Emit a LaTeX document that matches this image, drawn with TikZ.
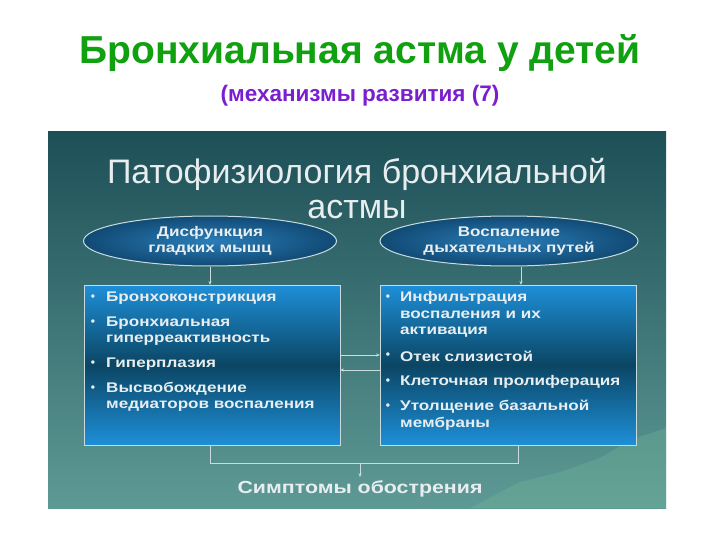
\documentclass[tikz,border=0pt]{standalone}
\usepackage{fontspec}
\setmainfont{Liberation Sans}
\newfontfamily\wide[FakeStretch=1.22]{Liberation Sans}
\usetikzlibrary{shapes.geometric,arrows.meta}
\definecolor{ttlgreen}{HTML}{10A010}
\definecolor{subpurple}{HTML}{7A1FD0}
\definecolor{bgtop}{HTML}{1D4F57}
\definecolor{bgbot}{HTML}{5E9A95}
\definecolor{boxblue}{HTML}{1E8FD8}
\definecolor{boxdark}{HTML}{0B4664}
\definecolor{elldark}{HTML}{114A74}
\definecolor{ellblue}{HTML}{2A7DB8}
\definecolor{txtlight}{HTML}{E8EEF0}
\definecolor{lineclr}{HTML}{C8DCE0}
\tikzset{
  boxst/.style={draw=lineclr, line width=1pt, top color=boxblue, bottom color=boxblue, middle color=boxdark},
  ellst/.style={ellipse, draw=lineclr, line width=1pt, inner color=ellblue, outer color=elldark, minimum width=253pt, minimum height=50pt, align=center, font=\wide\bfseries\fontsize{14}{16}\selectfont, text=txtlight, inner sep=0pt},
  itm/.style={anchor=west, font=\wide\bfseries\fontsize{14}{16}\selectfont, text=txtlight, inner sep=0pt},
  bul/.style={font=\bfseries\fontsize{12}{12}\selectfont, text=txtlight, inner sep=0pt},
  conn/.style={draw=lineclr, line width=0.8pt},
  arr/.style={conn, -{Stealth[length=4pt,width=3pt]}}
}
\begin{document}
\begin{tikzpicture}[x=1pt,y=-1pt]
\useasboundingbox (0,0) rectangle (720,540);
\fill[white] (0,0) rectangle (720,540);
\node[text=ttlgreen, font=\bfseries\fontsize{39}{42}\selectfont] (t1) at (360,53) {Бронхиальная астма у детей};
\node[text=subpurple, font=\bfseries\fontsize{22.5}{25}\selectfont] (t2) at (360,96) {(механизмы развития (7)};
\shade[top color=bgtop, bottom color=bgbot] (48,132) rectangle (666,508);
\fill[bgbot!80!white!90!green, opacity=0.35] (470,508) -- (520,482) -- (560,472) -- (600,458) -- (630,440) -- (666,428) -- (666,508) -- cycle;
\node[text=txtlight, font=\fontsize{34}{35}\selectfont, align=center] (pt) at (357,189) {Патофизиология бронхиальной\\астмы};
\node[ellst] (e1) at (210,241) {Дисфункция\\гладких мышц};
\node[ellst, minimum width=258pt] (e2) at (509,241) {Воспаление\\дыхательных путей};
\path[boxst] (84,285) rectangle (340,445);
\path[boxst] (380,285) rectangle (636,445);
\coordinate (b1t) at (210,285); \coordinate (b2t) at (521,285);
\coordinate (b1b) at (210,445); \coordinate (b2b) at (518,445);
\coordinate (b1r1) at (340,355); \coordinate (b2l1) at (380,355);
\coordinate (b1r2) at (340,370); \coordinate (b2l2) at (380,370);
\draw[arr] (e1.south) -- (b1t);
\draw[arr] (e2.south -| b2t) -- (b2t);
\draw[arr] (b1r1) -- (b2l1);
\draw[arr] (b2l2) -- (b1r2);
\coordinate (j) at (360,463);
\draw[conn] (b1b) -- (210,463) -- (518,463) -- (b2b);
\node[text=txtlight, font=\wide\bfseries\fontsize{17.5}{20}\selectfont] (sym) at (360,489) {Симптомы обострения};
\draw[arr] (j) -- (sym.north);
\foreach \y/\t/\b [count=\i] in {298/{Бронхоконстрикция}/1,323/{Бронхиальная}/1,340/{гиперреактивность}/0,364/{Гиперплазия}/1,389/{Высвобождение}/1,406/{медиаторов воспаления}/0}
  {\node[itm] (l\i) at (106,\y) {\t};
   \ifnum\b=1 \node[bul] (lb\i) at (93,\y) {•};\fi}
\foreach \y/\t/\b [count=\i] in {298/{Инфильтрация}/1,315/{воспаления и их}/0,332/{активация}/0,356/{Отек слизистой}/1,382/{Клеточная пролиферация}/1,407/{Утолщение базальной}/1,424/{мембраны}/0}
  {\node[itm] (r\i) at (400,\y) {\t};
   \ifnum\b=1 \node[bul] (rb\i) at (388,\y) {•};\fi}
\end{tikzpicture}
\end{document}
